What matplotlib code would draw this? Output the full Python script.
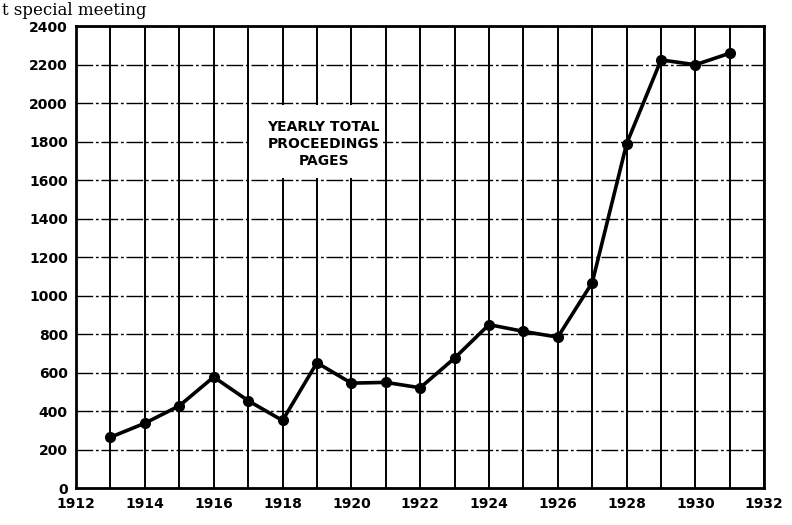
import matplotlib.pyplot as plt
import numpy as np

# 数据：每年的会刊总页数
years = [1913, 1914, 1915, 1916, 1917, 1918, 1919, 1920, 1921, 1922,
         1923, 1924, 1925, 1926, 1927, 1928, 1929, 1930, 1931]
pages = [265, 338, 428, 578, 455, 352, 652, 546, 550, 522,
         676, 850, 815, 785, 1068, 1790, 2225, 2200, 2260]

x_ticks = [1912, 1914, 1916, 1918, 1920, 1922, 1924, 1926, 1928, 1930, 1932]
y_ticks = [0, 200, 400, 600, 800, 1000, 1200, 1400, 1600, 1800, 2000, 2200, 2400]
box_lines = ['YEARLY TOTAL', 'PROCEEDINGS', 'PAGES']

plt.rcParams['font.family'] = ['DejaVu Sans']

fig = plt.figure(figsize=(7.92, 5.25), dpi=100)
ax = fig.add_axes([0.096, 0.07, 0.869, 0.88])

# 网格：竖线每年一条，横线每200一条
for yr in range(1912, 1933):
    ax.axvline(yr, color='black', lw=1.4, zorder=1)
for v in y_ticks:
    ax.axhline(v, color='black', lw=1.0, ls=(0, (12, 2, 2, 2)), zorder=1)

# 文字框（遮住网格）
ax.fill_between([1917.08, 1920.92], 1612, 1990, color='white', zorder=2, lw=0)
for i, s in enumerate(box_lines):
    ax.text(1919.2, 1875 - i * 88, s, ha='center', va='center',
            fontsize=10, fontweight='bold', zorder=3)

ax.plot(years, pages, color='black', lw=2.6, marker='o', ms=7, zorder=4)

ax.set_xlim(1912, 1932)
ax.set_ylim(0, 2400)
ax.set_xticks(x_ticks)
ax.set_yticks(y_ticks)
ax.set_xticklabels([str(t) for t in x_ticks])
ax.tick_params(length=0, labelsize=10, pad=6)
for lab in ax.get_xticklabels() + ax.get_yticklabels():
    lab.set_fontweight('bold')
for sp in ax.spines.values():
    sp.set_linewidth(2)
    sp.set_zorder(5)

# 页面顶端的正文片段
fig.text(0.003, 0.972, 't special meeting', family='DejaVu Serif',
         fontsize=12, va='baseline')

plt.savefig('out.png', dpi=100)
